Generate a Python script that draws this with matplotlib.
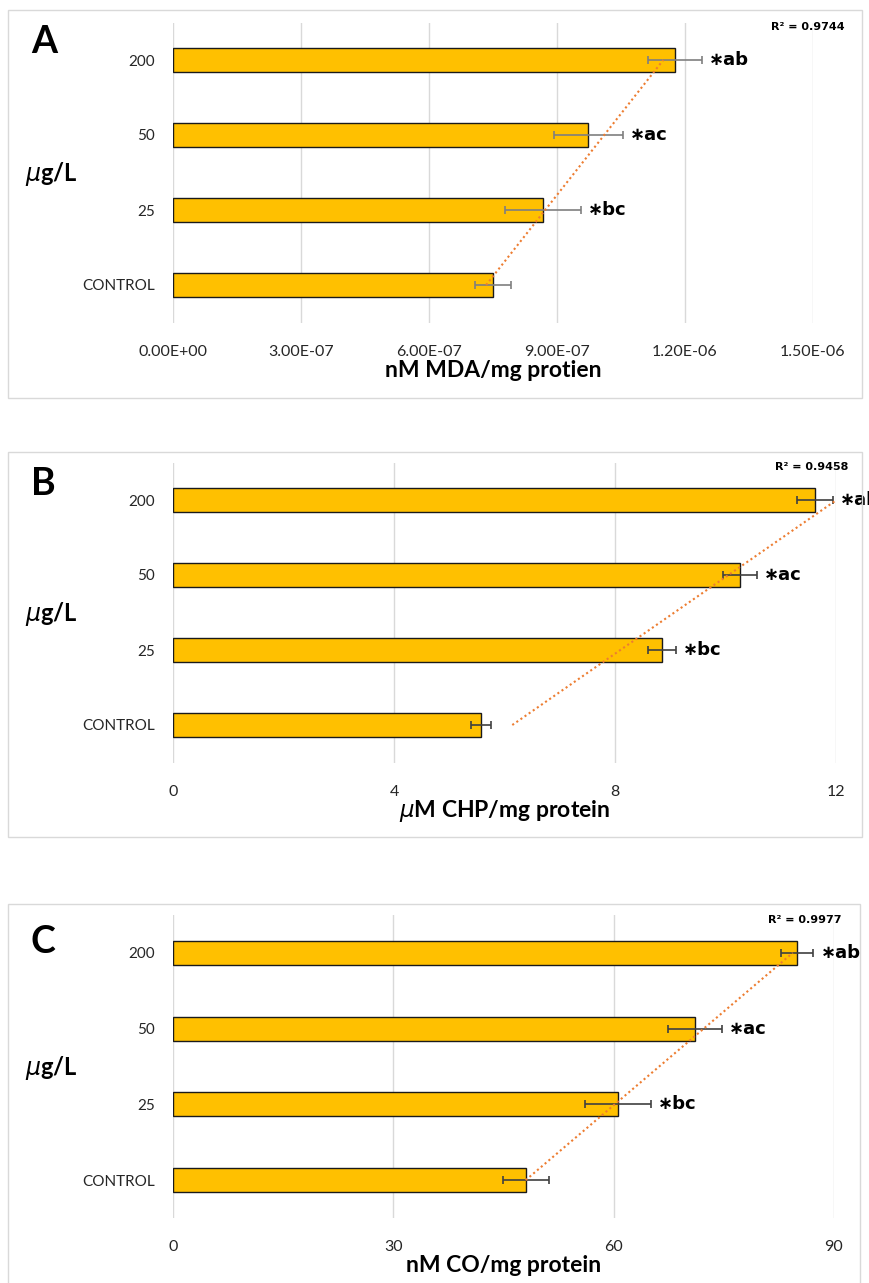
import numpy as np
import matplotlib
matplotlib.use("Agg")
import matplotlib.pyplot as plt
from matplotlib.patches import Rectangle

# ---- data ----
doses = ["CONTROL", "25", "50", "200"]
letters = ["", "\u2217bc", "\u2217ac", "\u2217ab"]

mda = [7.50e-07, 8.67e-07, 9.73e-07, 1.176e-06]
mda_err = [4.2e-08, 9.0e-08, 8.1e-08, 6.3e-08]
chp = [5.57, 8.85, 10.26, 11.62]
chp_err = [0.18, 0.26, 0.31, 0.33]
co = [48.1, 60.6, 71.1, 85.0]
co_err = [3.1, 4.5, 3.7, 2.2]

r2_labels = ["R\u00b2 = 0.9744", "R\u00b2 = 0.9458", "R\u00b2 = 0.9977"]
xlabels = ["nM MDA/mg protien", r"$\mu$M CHP/mg protein", "nM CO/mg protein"]
panel_names = ["A", "B", "C"]

W, H = 870, 1283
fig = plt.figure(figsize=(W / 100, H / 100), dpi=100)
FONT = "Lato"


def fx(x):
    return x / W


def fy(y):
    return 1 - y / H


def panel(vals, errs, xmax, step, fmt, box, ax_px, name, xlabel, r2, ecolor, name_pos, r2_pos):
    # frame around the panel
    x0, y0, x1, y1 = box
    fig.patches.append(Rectangle((fx(x0), fy(y1)), fx(x1 - x0), (y1 - y0) / H,
                                 transform=fig.transFigure, fill=False,
                                 edgecolor="#d9d9d9", linewidth=1))
    l, t, r, b = ax_px
    ax = fig.add_axes([fx(l), fy(b), fx(r - l), (b - t) / H])
    idx = np.arange(len(doses))
    ax.barh(idx, vals, height=0.32, color="#FFC000", edgecolor="#1a1a1a", linewidth=1, zorder=2)
    ax.errorbar(vals, idx, xerr=errs, fmt="none", ecolor=ecolor, elinewidth=1.2,
                capsize=3, capthick=1.2, zorder=3)
    # linear trendline (Excel style)
    k, c = np.polyfit(idx + 1, vals, 1)
    ax.plot(k * (idx + 1) + c, idx, linestyle=(0, (1, 1.4)), color="#ED7D31",
            linewidth=1.5, zorder=4)
    for i, lab in enumerate(letters):
        if lab:
            ax.annotate(lab, (vals[i] + errs[i], i), xytext=(5, 0), textcoords="offset points",
                        ha="left", va="center", fontsize=13, fontweight="bold",
                        family="DejaVu Sans", annotation_clip=False, zorder=5)
    ax.set_xlim(0, xmax)
    ax.set_ylim(-0.5, len(doses) - 0.5)
    ticks = np.arange(0, xmax + step / 2, step)
    ax.set_xticks(ticks)
    ax.set_xticklabels([fmt(v) for v in ticks], fontsize=11.5, family=FONT, color="#262626")
    ax.set_yticks(idx)
    ax.set_yticklabels(doses, fontsize=11, family=FONT, color="#262626")
    ax.tick_params(length=0, axis="x", pad=16)
    ax.tick_params(length=0, axis="y", pad=13)
    ax.grid(axis="x", color="#d9d9d9", linewidth=1, zorder=0)
    ax.set_axisbelow(True)
    for s in ax.spines.values():
        s.set_visible(False)
    fig.text(fx((l + r) / 2), fy(b + 48), xlabel, ha="center", va="center",
             fontsize=16.5, fontweight="bold", family=FONT)
    fig.text(fx(name_pos[0]), fy(name_pos[1]), name, ha="left", va="center",
             fontsize=27, fontweight="bold", family=FONT)
    fig.text(fx(r2_pos[0]), fy(r2_pos[1]), r2, ha="right", va="center",
             fontsize=8, fontweight="bold", family="DejaVu Sans")
    fig.text(fx(25), fy((t + b) / 2 + 2), r"$\mu$g/L", ha="left", va="center",
             fontsize=17, fontweight="bold", family=FONT)
    return ax


panel(mda, mda_err, 1.5e-06, 3e-07, lambda v: f"{v:.2E}", (8, 10, 862, 398),
      (173, 22.5, 813, 322.5), panel_names[0], xlabels[0], r2_labels[0], "#7f7f7f",
      (31, 42), (845, 27))
panel(chp, chp_err, 12, 4, lambda v: f"{v:.0f}", (8, 452, 862, 837),
      (173, 462.5, 836, 762.5), panel_names[1], xlabels[1], r2_labels[1], "#404040",
      (31, 484), (848, 467))
panel(co, co_err, 90, 30, lambda v: f"{v:.0f}", (8, 904, 860, 1400),
      (173, 915, 834, 1218), panel_names[2], xlabels[2], r2_labels[2], "#404040",
      (31, 942), (842, 920))

fig.savefig("out.png", dpi=100)
